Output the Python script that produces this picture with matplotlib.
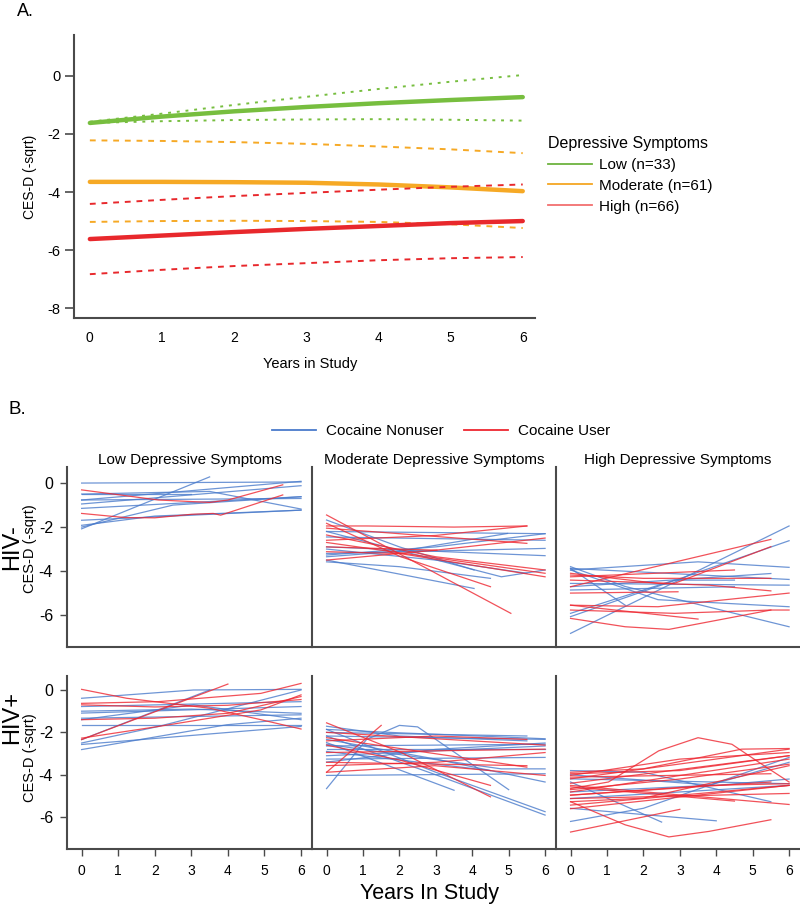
import matplotlib
matplotlib.use("Agg")
import matplotlib.pyplot as plt
from matplotlib.lines import Line2D

plt.rcParams["font.family"] = ["Liberation Sans", "DejaVu Sans"]
plt.rcParams["axes.unicode_minus"] = False

# ---- panel A: fitted trajectories with bounds
years = [0, 1, 2, 3, 4, 5, 6]
low_fit = [-1.62, -1.40, -1.22, -1.07, -0.94, -0.83, -0.73]
low_hi = [-1.58, -1.30, -1.00, -0.72, -0.45, -0.20, 0.03]
low_lo = [-1.62, -1.56, -1.52, -1.50, -1.49, -1.51, -1.54]
mod_fit = [-3.65, -3.65, -3.66, -3.68, -3.74, -3.84, -3.97]
mod_hi = [-2.22, -2.24, -2.28, -2.34, -2.43, -2.53, -2.66]
mod_lo = [-5.03, -5.00, -4.99, -5.00, -5.03, -5.11, -5.24]
high_fit = [-5.62, -5.50, -5.38, -5.27, -5.17, -5.07, -5.00]
high_hi = [-4.41, -4.27, -4.14, -4.03, -3.92, -3.82, -3.74]
high_lo = [-6.83, -6.68, -6.55, -6.45, -6.35, -6.28, -6.24]
group_labels = ["Low (n=33)", "Moderate (n=61)", "High (n=66)"]

# ---- panel B: individual trajectories (x knots, y knots)
neg_low_non = [
    ([0, 6], [0.0, 0.05]), ([0, 3.5], [-2.08, 0.28]), ([0, 3], [-0.51, -0.51]),
    ([0, 6], [-0.77, 0.08]), ([0, 6], [-0.95, -0.12]), ([0, 6], [-1.15, -0.62]),
    ([0, 3.5, 6], [-0.5, -0.38, -1.18]), ([0, 6], [-1.69, -1.23]),
    ([0, 2, 6], [-1.92, -1.5, -1.23]), ([0, 2.5, 6], [-2.0, -1.0, -0.62]),
    ([0, 6], [-0.77, -0.7]),
]
neg_low_user = [
    ([0, 2.1, 3.5, 4, 5.5], [-0.31, -0.77, -0.88, -0.77, -0.08]),
    ([0, 1.2, 2, 3, 3.6, 3.8, 5.5], [-1.38, -1.57, -1.58, -1.42, -1.38, -1.46, -0.54]),
]
neg_mod_non = [
    ([0, 2, 4.05], [-1.68, -2.9, -3.95]), ([0, 6], [-2.2, -2.3]), ([0, 6], [-3.2, -2.97]),
    ([0, 4.05], [-3.5, -4.79]), ([0, 2, 4.97], [-3.35, -3.1, -2.29]),
    ([0, 2, 4.5], [-3.58, -3.8, -4.33]), ([0, 4.8, 6], [-2.2, -4.26, -3.95]),
    ([0, 6], [-2.45, -2.6]), ([0, 3, 6], [-3.27, -2.9, -2.3]), ([0, 6], [-2.9, -3.3]),
    ([0, 3, 5.5], [-3.0, -3.5, -4.1]),
]
neg_mod_user = [
    ([0, 5.06], [-1.45, -5.92]), ([0, 1.1, 3.5, 5.5], [-1.95, -1.95, -2.0, -1.95]),
    ([0, 2.04, 4.5], [-1.83, -3.35, -4.71]), ([0, 5.5], [-2.05, -2.74]),
    ([0, 3, 5.5], [-2.6, -2.38, -1.95]), ([0, 3, 6], [-3.5, -3.05, -2.5]),
    ([0, 3, 6], [-2.36, -3.35, -3.95]), ([0, 3.03], [-2.9, -3.05]),
    ([0, 2, 6], [-3.12, -3.2, -4.26]), ([0, 6], [-2.7, -4.1]),
]
neg_high_non = [
    ([0, 6], [-6.83, -1.95]), ([0, 6], [-6.07, -2.62]), ([0, 3.5, 6], [-3.95, -3.58, -3.83]),
    ([0, 5.5], [-4.71, -4.11]), ([0, 6], [-3.88, -4.38]), ([0, 6], [-4.56, -4.64]),
    ([0, 2.4, 6], [-3.95, -5.3, -5.62]), ([0, 1.5, 6], [-3.8, -4.7, -6.53]),
    ([0, 1.5], [-3.88, -5.55]), ([0, 2.85, 4.5], [-5.92, -4.41, -4.41]),
    ([0, 4.5], [-4.86, -4.71]),
]
neg_high_user = [
    ([0, 5.5], [-4.71, -2.56]), ([0, 2.85, 5.5], [-4.41, -4.56, -2.89]),
    ([0, 2.4, 3.8, 5.5], [-4.1, -4.56, -4.64, -4.9]), ([0, 2.4, 6], [-5.55, -5.62, -5.0]),
    ([0, 2.85, 5.5, 6], [-5.77, -5.92, -5.77, -5.77]), ([0, 3.5], [-5.55, -6.18]),
    ([0, 1.5, 2.7, 5.5], [-6.15, -6.53, -6.65, -5.77]), ([0, 2.95], [-5.0, -4.94]),
    ([0, 4.5], [-4.26, -3.95]), ([0, 2, 5.5], [-4.18, -4.33, -4.33]),
]
pos_low_non = [
    ([0, 3.06, 6], [-0.39, 0.0, 0.03]), ([0, 6], [-0.78, -0.55]), ([0, 6], [-1.09, -0.78]),
    ([0, 3.06, 6], [-1.4, -0.7, -1.4]), ([0, 6], [-1.64, -1.64]), ([0, 3.5], [-2.34, 0.0]),
    ([0, 2.1, 6], [-2.5, -1.72, 0.0]), ([0, 2.1, 3.97, 6], [-2.81, -2.19, -1.64, -1.33]),
    ([0, 6], [-2.57, -1.72]), ([0, 6], [-1.33, -1.17]), ([0, 3, 6], [-1.0, -0.9, -1.1]),
]
pos_low_user = [
    ([0, 1.23, 3.5, 4.9, 6], [0.03, -0.39, -0.86, -1.4, -1.84]),
    ([0, 2.1, 4.9, 6], [-0.63, -0.55, -0.16, 0.31]),
    ([0, 2, 4, 6], [-1.4, -1.33, -1.1, -0.31]), ([0, 4.0], [-2.34, 0.28]),
    ([0, 2.1, 4.9, 6], [-2.27, -1.72, -0.94, -0.23]),
    ([0, 2, 4, 6], [-0.7, -0.8, -0.72, -0.45]),
]
pos_mod_non = [
    ([0, 1.1, 2, 2.5, 5], [-4.65, -2.33, -1.67, -1.74, -4.7]),
    ([0, 3, 6], [-1.86, -3.88, -5.74]), ([0, 3, 6], [-2.17, -4.0, -5.9]),
    ([0, 3.5], [-2.48, -4.73]), ([0, 6], [-4.03, -3.95]), ([0, 5.5], [-2.0, -2.17]),
    ([0, 6], [-2.17, -2.33]), ([0, 6], [-2.64, -2.56]), ([0, 6], [-2.79, -2.79]),
    ([0, 2, 6], [-3.1, -2.95, -2.64]), ([0, 6], [-3.26, -3.18]),
    ([0, 3, 6], [-2.33, -3.26, -4.34]), ([0, 4.8, 6], [-2.56, -3.72, -3.72]),
    ([0, 2, 5.5], [-1.71, -2.17, -2.4]), ([0, 2, 6], [-1.86, -2.02, -2.3]),
    ([0, 4.5], [-2.9, -3.8]), ([0, 3, 6], [-3.4, -2.8, -2.5]),
]
pos_mod_user = [
    ([0, 1.5], [-3.88, -1.67]), ([0, 2.05, 4.5], [-1.55, -2.95, -5.04]),
    ([0, 2.97, 6], [-3.88, -3.57, -4.03]), ([0, 5.5], [-3.41, -3.57]),
    ([0, 3, 5.5], [-2.4, -2.17, -2.33]), ([0, 6], [-2.95, -2.79]),
    ([0, 3, 6], [-3.57, -3.41, -2.95]), ([0, 5.5], [-2.25, -3.64]),
    ([0, 2, 4.5], [-2.6, -3.3, -4.5]), ([0, 6], [-2.0, -2.6]),
]
pos_high_non = [
    ([0, 2, 5.5], [-3.8, -3.88, -5.27]), ([0, 2, 6], [-6.2, -5.58, -3.18]),
    ([0, 4], [-5.58, -6.17]), ([0, 2.5], [-4.34, -6.23]), ([0, 6], [-4.19, -4.42]),
    ([0, 3.8, 6], [-4.81, -4.5, -3.41]), ([0, 6], [-5.12, -4.5]),
    ([0, 4, 6], [-4.0, -4.5, -4.2]),
]
pos_high_user = [
    ([0, 1.04, 2.42, 3.5, 4.43, 5.17, 6], [-4.65, -4.34, -2.87, -2.25, -2.56, -3.41, -4.34]),
    ([0, 1.5, 2.7, 3.8, 5.5], [-5.27, -6.36, -6.93, -6.67, -6.12]),
    ([0, 3], [-6.7, -5.63]), ([0, 2, 4.7, 6], [-3.88, -3.72, -2.79, -2.76]),
    ([0, 3, 6], [-4.03, -3.26, -2.95]), ([0, 6], [-4.19, -2.79]), ([0, 6], [-4.81, -3.26]),
    ([0, 3.8, 6], [-4.96, -4.5, -4.42]), ([0, 6], [-5.12, -4.88]), ([0, 6], [-5.43, -4.5]),
    ([0, 6], [-4.5, -5.4]), ([0, 5.5], [-4.11, -3.95]), ([0, 4.5], [-4.57, -5.24]),
    ([0, 5.5], [-4.96, -4.34]), ([0, 2, 6], [-5.27, -5.1, -3.57]), ([0, 6], [-4.4, -3.1]),
    ([0, 3, 6], [-4.7, -4.2, -3.5]), ([0, 6], [-5.6, -4.5]), ([0, 3, 6], [-3.95, -3.8, -3.1]),
]

col_titles = ["Low Depressive Symptoms", "Moderate Depressive Symptoms", "High Depressive Symptoms"]
panels = [[(neg_low_non, neg_low_user), (neg_mod_non, neg_mod_user), (neg_high_non, neg_high_user)],
          [(pos_low_non, pos_low_user), (pos_mod_non, pos_mod_user), (pos_high_non, pos_high_user)]]

GREEN, ORANGE, RED = "#77BE3F", "#F6A925", "#E8282C"
BLUE_B, RED_B = "#4A7BCB", "#EE2630"
SPINE = "#4a4a4a"

W, H = 800, 905
fig = plt.figure(figsize=(8, 9.05), dpi=100)

def box(l, t, r, b):
    return [l / W, 1 - b / H, (r - l) / W, (b - t) / H]

# ---------------- panel A
ax = fig.add_axes(box(74, 35, 535, 318))
for fit, hi, lo, c, dash in [(low_fit, low_hi, low_lo, GREEN, (1.5, 3)),
                             (mod_fit, mod_hi, mod_lo, ORANGE, (3, 3)),
                             (high_fit, high_hi, high_lo, RED, (3, 3))]:
    ax.plot(years, fit, color=c, lw=3.2, solid_capstyle="round")
    ax.plot(years, hi, color=c, lw=1.4, dashes=dash)
    ax.plot(years, lo, color=c, lw=1.4, dashes=dash)
ax.set_xlim(-0.22, 6.17)
ax.set_ylim(-8.34, 1.41)
ax.set_xticks(years)
ax.set_yticks([0, -2, -4, -6, -8])
ax.tick_params(axis="x", length=0, pad=9, labelsize=10)
ax.tick_params(axis="y", length=6.5, width=1.2, color=SPINE, pad=3, labelsize=10.5)
for s in ["top", "right"]:
    ax.spines[s].set_visible(False)
for s in ["left", "bottom"]:
    ax.spines[s].set_color(SPINE)
    ax.spines[s].set_linewidth(1.5)
ax.set_ylabel("CES-D (-sqrt)", fontsize=10)
ax.yaxis.set_label_coords(-0.08, 0.5)
ax.set_xlabel("Years in Study", fontsize=10.5)
ax.xaxis.set_label_coords(0.513, -0.138)
handles = [Line2D([], [], color=c, lw=1.3) for c in ["#6DB33F", "#F5A623", "#F27070"]]
ax.legend(handles, group_labels, title="Depressive Symptoms", loc="upper left",
          bbox_to_anchor=(548 / W, 1 - 136 / H), bbox_transform=fig.transFigure,
          frameon=False, fontsize=11, title_fontsize=11.5, handlelength=2.9,
          handletextpad=0.45, labelspacing=0.45, borderpad=0, borderaxespad=0,
          alignment="left")
fig.text(17 / W, 1 - 12 / H, "A.", fontsize=13, va="center", ha="left")

# ---------------- panel B
fig.text(8 / W, 1 - 409 / H, "B.", fontsize=13.5, va="center", ha="left")
col_x = [(67, 312), (312, 556), (556, 800)]
row_y = [(467, 647, (-7.45, 0.73)), (676, 849, (-7.5, 0.66))]
for r, (top, bot, ylim) in enumerate(row_y):
    for c, (left, right) in enumerate(col_x):
        axb = fig.add_axes(box(left, top, right, bot))
        non, user = panels[r][c]
        for xs, ys in non:
            axb.plot(xs, ys, color=BLUE_B, lw=0.9, alpha=0.8)
        for xs, ys in user:
            axb.plot(xs, ys, color=RED_B, lw=0.9, alpha=0.8)
        axb.set_xlim(-0.4, 6.3)
        axb.set_ylim(*ylim)
        for s in ["top", "right"]:
            axb.spines[s].set_visible(False)
        for s in ["left", "bottom"]:
            axb.spines[s].set_color(SPINE)
            axb.spines[s].set_linewidth(1.5)
        if r == 0:
            axb.set_title(col_titles[c], fontsize=11, pad=2)
            axb.set_xticks([])
        else:
            axb.set_xticks(years)
            axb.tick_params(axis="x", length=5, width=1, color=SPINE, pad=6, labelsize=10)
        if c == 0:
            axb.set_yticks([0, -2, -4, -6])
            axb.tick_params(axis="y", length=5, width=1, color=SPINE, pad=5, labelsize=11.5)
        else:
            axb.set_yticks([])

fig.text(12 / W, 1 - 547 / H, "HIV-", fontsize=17, rotation=90, va="center", ha="center")
fig.text(30 / W, 1 - 549 / H, "CES-D (-sqrt)", fontsize=10.5, rotation=90, va="center", ha="center")
fig.text(12 / W, 1 - 717 / H, "HIV+", fontsize=17, rotation=90, va="center", ha="center")
fig.text(30 / W, 1 - 758 / H, "CES-D (-sqrt)", fontsize=10.5, rotation=90, va="center", ha="center")
fig.text(430 / W, 1 - 893 / H, "Years In Study", fontsize=15.5, va="center", ha="center")

hb = [Line2D([], [], color=BLUE_B, lw=1.3), Line2D([], [], color=RED_B, lw=1.3)]
fig.legend(hb, ["Cocaine Nonuser", "Cocaine User"], loc="center",
           bbox_to_anchor=(441 / W, 1 - 431 / H), ncol=2, frameon=False, fontsize=11,
           handlelength=2.9, handletextpad=0.65, columnspacing=1.3, borderpad=0)

fig.savefig("out.png", dpi=100)
